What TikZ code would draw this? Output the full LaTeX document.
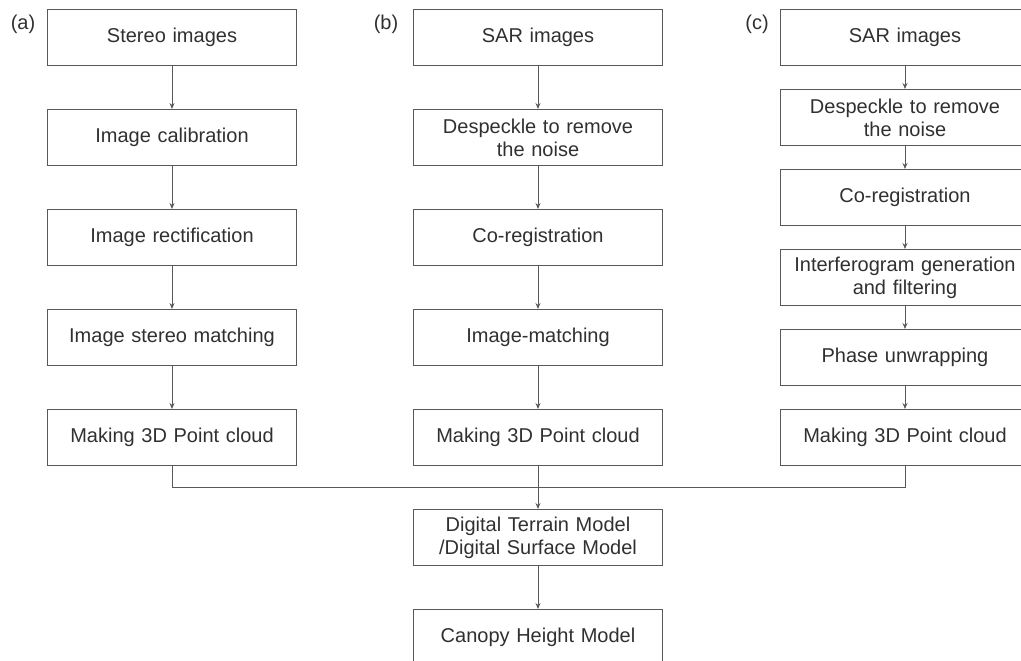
\documentclass[tikz,border=0pt]{standalone}
\usepackage{fontspec}
\setmainfont{Liberation Sans}
\usetikzlibrary{arrows.meta,chains,positioning}
\definecolor{boxgray}{HTML}{595959}
\definecolor{txtgray}{HTML}{303030}
\tikzset{
	>={Stealth[length=6pt,width=5pt]},
	stepbox/.style={
		rectangle,
		draw=boxgray, line width=1.3pt,
		text=txtgray,
		text width=236pt,
		minimum width=248.7pt,
		minimum height=55.7pt,
		inner sep=0pt,
		text centered,
		font=\fontsize{20}{23}\selectfont,
		on chain},
	line/.style={draw=boxgray, line width=.9pt},
	every join/.style={->, draw=boxgray, line width=.9pt},
	panel/.style={text=txtgray, font=\fontsize{20}{23}\selectfont},
}
\begin{document}
\begin{tikzpicture}[x=1pt, y=-1pt]
	\useasboundingbox (0,0) rectangle (1021,661);
	% (a) stereo images
	\begin{scope}[node distance=43pt, start chain=going below]
		\node[stepbox] (a1) at (172,37.5) {Stereo images};
		\node[stepbox, join] (a2) {Image calibration};
		\node[stepbox, join] (a3) {Image rectification};
		\node[stepbox, join] (a4) {Image stereo matching};
		\node[stepbox, join] (a5) {Making 3D Point cloud};
	\end{scope}
	% (b) SAR radargrammetry
	\begin{scope}[node distance=43pt, start chain=going below]
		\node[stepbox] (b1) at (538,37.5) {SAR images};
		\node[stepbox, join] (b2) {Despeckle to remove\\the noise};
		\node[stepbox, join] (b3) {Co-registration};
		\node[stepbox, join] (b4) {Image-matching};
		\node[stepbox, join] (b5) {Making 3D Point cloud};
		\node[stepbox, join] (dtm) {Digital Terrain Model\\/Digital Surface Model};
		\node[stepbox, join] (chm) {Canopy Height Model};
	\end{scope}
	% (c) InSAR
	\begin{scope}[node distance=23pt, start chain=going below]
		\node[stepbox] (c1) at (905,37.5) {SAR images};
		\node[stepbox, join] (c2) {Despeckle to remove\\the noise};
		\node[stepbox, join] (c3) {Co-registration};
		\node[stepbox, join] (c4) {Interferogram generation\\and filtering};
		\node[stepbox, join] (c5) {Phase unwrapping};
		\node[stepbox, join] (c6) {Making 3D Point cloud};
	\end{scope}
	\draw[line] (a5.south) -- ++(0,21.5) -| (c6.south);
	\node[panel] (pa) at (23,24) {(a)};
	\node[panel] (pb) at (386,24) {(b)};
	\node[panel] (pc) at (757,24) {(c)};
\end{tikzpicture}
\end{document}
